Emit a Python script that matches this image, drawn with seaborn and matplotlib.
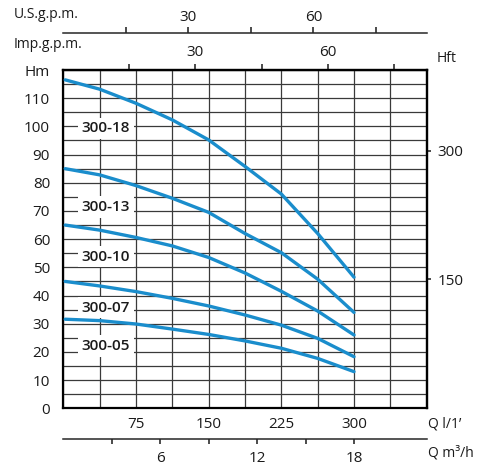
import numpy as np
import pandas as pd
import matplotlib
matplotlib.use("Agg")
import matplotlib.pyplot as plt
import seaborn as sns

# flow in l/min, head in m
flow = [2, 37.5, 75, 112.5, 150, 187.5, 225, 262.5, 300]
head_300_18 = [116.5, 113.2, 108.2, 102.3, 95.2, 85.8, 76.0, 62.0, 46.5]
head_300_13 = [85.0, 82.8, 79.0, 74.5, 69.5, 62.0, 55.2, 45.8, 34.0]
head_300_10 = [65.0, 63.2, 60.6, 57.6, 53.5, 48.0, 41.5, 34.5, 26.0]
head_300_07 = [45.0, 43.4, 41.4, 39.0, 36.3, 33.1, 29.5, 24.8, 18.3]
head_300_05 = [31.6, 31.1, 29.9, 28.1, 26.2, 23.9, 21.3, 17.7, 13.0]

models = ["300-18", "300-13", "300-10", "300-07", "300-05"]
label_y = [99.3, 71.5, 53.8, 35.7, 22.2]
label_x = 44

x_ticks = np.arange(0, 376, 37.5)
x_labels = ["", "", "75", "", "150", "", "225", "", "300", "", ""]
y_ticks = np.arange(0, 121, 5)
imp_ticks = [15, 30, 45, 60, 75]
imp_labels = ["", "30", "", "60", ""]
us_ticks = [15, 30, 45, 60, 75]
us_labels = ["", "30", "", "60", ""]
m3h_ticks = [3, 6, 9, 12, 15, 18]
m3h_labels = ["", "6", "", "12", "", "18"]
ft_ticks = [150, 300]

IMP_LPM = 4.546
US_LPM = 4.3  # scale as drawn on the sheet
BLUE = "#1a8dcc"

sns.set_style("white")
plt.rcParams["font.family"] = ["Open Sans", "DejaVu Sans"]

df = pd.DataFrame({
    "Q": flow * 5,
    "H": head_300_18 + head_300_13 + head_300_10 + head_300_07 + head_300_05,
    "pump": np.repeat(models, len(flow)),
})

W, H = 489, 470
fig = plt.figure(figsize=(W / 100, H / 100), dpi=100)
left, right, top, bottom = 63.3, 426.7, 70.0, 408.3
ax = fig.add_axes([left / W, 1 - bottom / H, (right - left) / W, (bottom - top) / H])

sns.lineplot(data=df, x="Q", y="H", hue="pump", palette=[BLUE] * 5,
             legend=False, lw=2.4, ax=ax, zorder=3)

ax.set_xlim(0, 375)
ax.set_ylim(0, 120)
ax.set_xlabel("")
ax.set_ylabel("")
ax.set_xticks(x_ticks, labels=x_labels)
ylabs = ["Hm" if v == 120 else (str(int(v)) if v % 10 == 0 else "") for v in y_ticks]
ax.set_yticks(y_ticks, labels=ylabs)
ax.tick_params(axis="both", length=0, labelsize=11, colors="#1a1a1a")
ax.tick_params(axis="x", pad=6.5)
ax.tick_params(axis="y", pad=9.5)
ax.grid(True, color="#3a3a3a", lw=0.9)
for s in ax.spines.values():
    s.set_visible(True)
    s.set_color("black")
    s.set_linewidth(1.6)

for name, yv in zip(models, label_y):
    ax.text(label_x, yv, name, ha="center", va="center", fontsize=11,
            fontweight="semibold", color="#1a1a1a", zorder=4,
            bbox=dict(boxstyle="square,pad=0.25", fc="white", ec="none"))

# Imp. g.p.m. on the top frame
imp = ax.secondary_xaxis("top", functions=(lambda q: q / IMP_LPM, lambda g: g * IMP_LPM))
imp.set_xticks(imp_ticks, labels=imp_labels)
imp.tick_params(length=4.5, width=1.1, pad=3, labelsize=11, colors="#1a1a1a")
imp.spines["top"].set_linewidth(1.6)

# U.S. g.p.m. line above
us_pos = (bottom - 33) / (bottom - top)
us = ax.secondary_xaxis(us_pos, functions=(lambda q: q / US_LPM, lambda g: g * US_LPM))
us.set_xticks(us_ticks, labels=us_labels)
us.tick_params(length=4, width=1.1, pad=2, labelsize=11, colors="#1a1a1a")
us.spines["top"].set_linewidth(1.1)

# m3/h line below
m3_pos = (bottom - 439) / (bottom - top)
m3 = ax.secondary_xaxis(m3_pos, functions=(lambda q: q * 0.06, lambda m: m / 0.06))
m3.set_xticks(m3h_ticks, labels=m3h_labels)
m3.tick_params(length=3.5, width=1.1, pad=5, labelsize=11, colors="#1a1a1a")
m3.spines["bottom"].set_linewidth(1.1)

# feet on the right
ft = ax.secondary_yaxis("right", functions=(lambda m: m / 0.3048, lambda f: f * 0.3048))
ft.set_yticks(ft_ticks)
ft.tick_params(length=3, width=1.1, pad=5, labelsize=11, colors="#1a1a1a")
ft.spines["right"].set_linewidth(1.6)

def ftext(x, y, s, **kw):
    fig.text(x / W, 1 - y / H, s, va="center", ha="left", color="#1a1a1a", **kw)

ftext(14, 15, "U.S.g.p.m.", fontsize=10)
ftext(14, 44, "Imp.g.p.m.", fontsize=10)
ftext(437, 58, "Hft", fontsize=10)
ftext(428, 424, "Q l/1’", fontsize=10)
ftext(428, 453, "Q m³/h", fontsize=10)

fig.savefig("out.png", dpi=100)
